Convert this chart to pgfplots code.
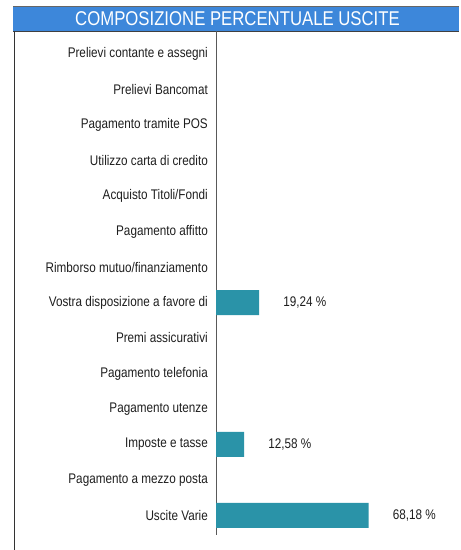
\documentclass[border=0pt]{standalone}
\usepackage{fontspec}
\setmainfont{Liberation Sans}
\newfontfamily\narrow[FakeStretch=0.84]{Liberation Sans}
\usepackage{pgfplots}
\pgfplotsset{compat=1.18}
\definecolor{hdr}{RGB}{61,135,218}
\definecolor{barc}{RGB}{42,147,168}
\definecolor{txt}{RGB}{30,30,30}
\begin{document}
\begin{tikzpicture}[x=1bp,y=1bp]
\path[use as bounding box] (0,0) rectangle (461,550);
\fill[hdr] (13,519) rectangle (459,544);
\draw[black!75, line width=0.6bp] (13,519) -- (459,519);
\draw[black!60, line width=0.5bp] (13,544) -- (459,544);
\node[text=white, inner sep=0pt, font=\narrow\fontsize{20}{24}\selectfont] at (237.5,531) {COMPOSIZIONE PERCENTUALE USCITE};
\draw[black!80, line width=0.8bp] (14,0) -- (14,519);
\begin{axis}[
  at={(216bp,15bp)}, anchor=south west,
  scale only axis, width=230bp, height=504bp,
  xmin=0, xmax=102.7, ymin=-0.65, ymax=13.55,
  y dir=reverse,
  axis x line=none,
  axis y line*=left,
  y axis line style={-, black!65, line width=0.6bp},
  ytick={0,...,13},
  yticklabels={Prelievi contante e assegni, Prelievi Bancomat, Pagamento tramite POS, Utilizzo carta di credito, Acquisto Titoli/Fondi, Pagamento affitto, Rimborso mutuo/finanziamento, Vostra disposizione a favore di, Premi assicurativi, Pagamento telefonia, Pagamento utenze, Imposte e tasse, Pagamento a mezzo posta, Uscite Varie},
  major tick length=0pt,
  yticklabel style={font=\narrow\fontsize{14}{16}\selectfont, inner sep=0pt, xshift=-8bp, text=txt},
  xbar, bar width=25bp,
  point meta=explicit symbolic,
  nodes near coords,
  every node near coord/.append style={anchor=west, inner sep=0pt, xshift=24bp, font=\narrow\fontsize{14}{16}\selectfont, text=txt},
]
\addplot[fill=barc, draw=none] coordinates {
  (19.24,7) [{19,24 \%}]
  (12.58,11) [{12,58 \%}]
  (68.18,13) [{68,18 \%}]
};
\end{axis}
\end{tikzpicture}
\end{document}
